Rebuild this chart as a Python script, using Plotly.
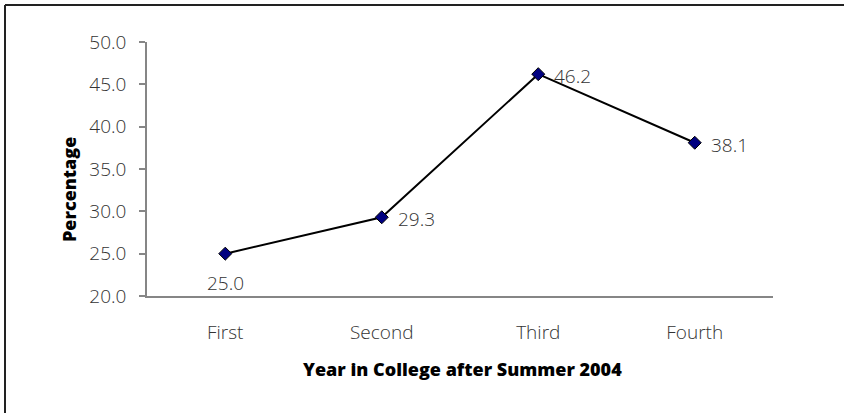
import plotly.graph_objects as go

categories = ["First", "Second", "Third", "Fourth"]
values = [25.0, 29.3, 46.2, 38.1]
y_ticks = [20, 25, 30, 35, 40, 45, 50]

LIGHT = dict(family="Open Sans", size=19, color="#333333", weight=300)
HEAVY = dict(family="Open Sans", size=18, color="black", weight=800)

fig = go.Figure()
fig.add_trace(go.Scatter(
    x=categories, y=values,
    mode="lines+markers",
    line=dict(color="black", width=2),
    marker=dict(symbol="diamond", size=10, color="#000080",
                line=dict(color="black", width=1)),
    cliponaxis=False,
    showlegend=False,
))

L, R, T, B = 147, 71, 42, 117
W, H = 844, 413
pw, ph = W - L - R, H - T - B

def px_x(p):
    return (p - L) / pw

def px_y(p):
    return (H - B - p) / ph

annotations = []
for i, (c, v) in enumerate(zip(categories, values)):
    if i == 0:
        annotations.append(dict(x=c, y=v, text=f"{v:.1f}", showarrow=False,
                                xanchor="center", yanchor="middle", yshift=-29, font=LIGHT))
    else:
        annotations.append(dict(x=c, y=v, text=f"{v:.1f}", showarrow=False,
                                xanchor="left", yanchor="middle", xshift=14, yshift=-2, font=LIGHT))

annotations += [
    dict(text="Year in College after Summer 2004", xref="paper", yref="paper",
         x=px_x(462), y=px_y(383), showarrow=False, font=HEAVY),
    dict(text="Percentage", xref="paper", yref="paper",
         x=px_x(55), y=px_y(190), showarrow=False, textangle=-90, font=HEAVY),
]

fig.update_layout(
    width=W, height=H,
    margin=dict(l=L, r=R, t=T, b=B),
    paper_bgcolor="white", plot_bgcolor="white",
    font=LIGHT,
    xaxis=dict(
        type="category", range=[-0.5, 3.5],
        showgrid=False, zeroline=False,
        showline=True, linecolor="#868686", linewidth=1.5,
        ticks="", tickfont=LIGHT, ticklabelstandoff=18,
    ),
    yaxis=dict(
        range=[20, 50], tickvals=y_ticks, tickformat=".1f",
        showgrid=False, zeroline=False,
        showline=True, linecolor="#868686", linewidth=1.5,
        ticks="outside", ticklen=6, tickcolor="#868686", tickwidth=1.5,
        tickfont=LIGHT, ticklabelstandoff=9,
    ),
    shapes=[
        dict(type="line", xref="paper", yref="paper",
             x0=px_x(5), x1=px_x(W + 5), y0=px_y(5), y1=px_y(5),
             line=dict(color="#222222", width=2)),
        dict(type="line", xref="paper", yref="paper",
             x0=px_x(5), x1=px_x(5), y0=px_y(5), y1=px_y(H + 5),
             line=dict(color="#222222", width=2)),
    ],
    annotations=annotations,
)

fig.write_html("out.html", config={"displayModeBar": False},
               post_script="document.body.style.margin='0';")
